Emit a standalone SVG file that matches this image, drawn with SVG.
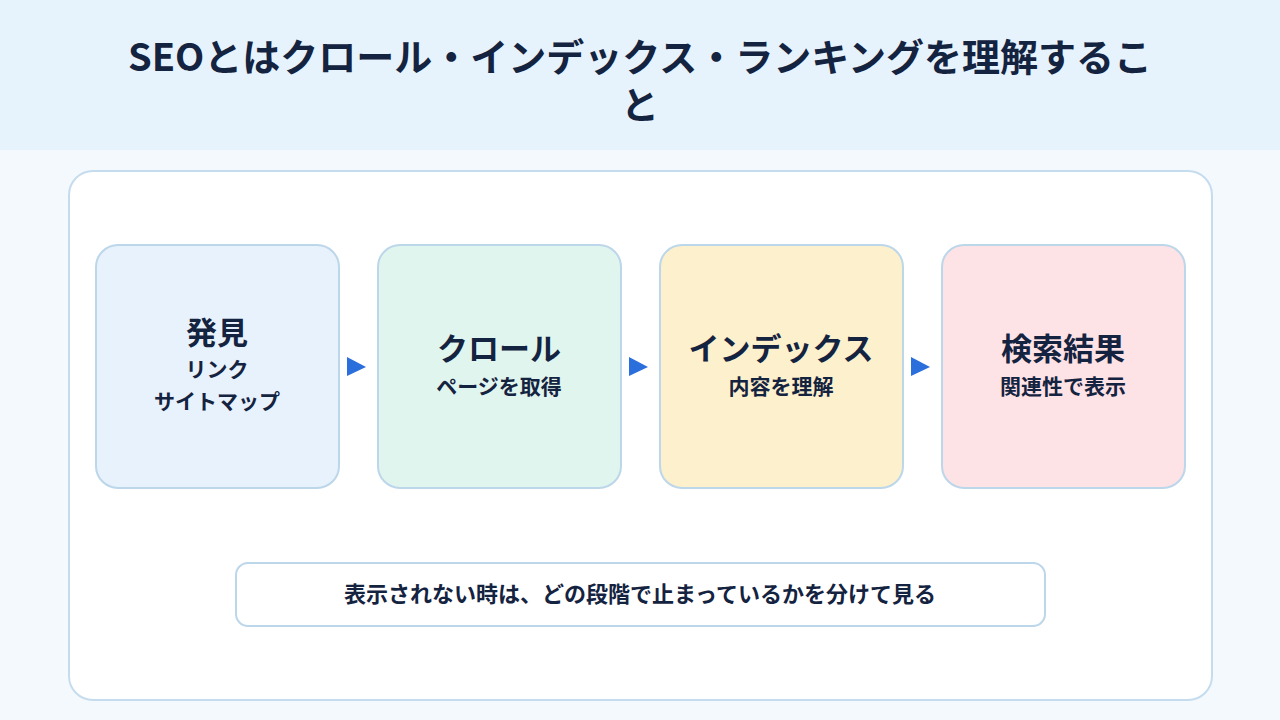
<svg xmlns="http://www.w3.org/2000/svg" width="1280" height="720" viewBox="0 0 1280 720">
<defs>
<style>
text{font-family:"Noto Sans CJK JP","Noto Sans",sans-serif;font-weight:700;fill:#14233f;text-anchor:middle}
.t{font-size:38px}
.h{font-size:31px}
.s{font-size:21px}
.n{stroke:#bcd6ea;stroke-width:2}
.a{fill:#2a6fdb}
</style>
</defs>
<rect x="0" y="0" width="1280" height="720" fill="#f4f9fd"/>
<rect x="0" y="0" width="1280" height="150" fill="#e6f3fd"/>
<g id="title">
<text class="t" x="640" y="71">SEOとはクロール・インデックス・ランキングを理解するこ</text>
<text class="t" x="640" y="119">と</text>
</g>
<rect id="panel" x="69" y="171" width="1143" height="529" rx="24" fill="#ffffff" stroke="#c5dcee" stroke-width="2"/>
<g id="connectors">
<polygon class="a" points="347,357 366,367 347,376"/>
<polygon class="a" points="629,357 648,367 629,376"/>
<polygon class="a" points="911,357 930,367 911,376"/>
</g>
<g id="node-discover">
<rect class="n" x="96" y="245" width="243" height="243" rx="22" fill="#e8f2fc"/>
<text class="h" x="217" y="344">発見</text>
<text class="s" x="217" y="377">リンク</text>
<text class="s" x="217" y="409">サイトマップ</text>
</g>
<g id="node-crawl">
<rect class="n" x="378" y="245" width="243" height="243" rx="22" fill="#e0f5ee"/>
<text class="h" x="499" y="360">クロール</text>
<text class="s" x="499" y="394">ページを取得</text>
</g>
<g id="node-index">
<rect class="n" x="660" y="245" width="243" height="243" rx="22" fill="#fdf0cc"/>
<text class="h" x="781" y="360">インデックス</text>
<text class="s" x="781" y="394">内容を理解</text>
</g>
<g id="node-results">
<rect class="n" x="942" y="245" width="243" height="243" rx="22" fill="#fde2e6"/>
<text class="h" x="1063" y="360">検索結果</text>
<text class="s" x="1063" y="394">関連性で表示</text>
</g>
<g id="note">
<rect class="n" x="236" y="563" width="809" height="63" rx="12" fill="#ffffff"/>
<text x="640" y="602" style="font-size:22px">表示されない時は、どの段階で止まっているかを分けて見る</text>
</g>
</svg>
